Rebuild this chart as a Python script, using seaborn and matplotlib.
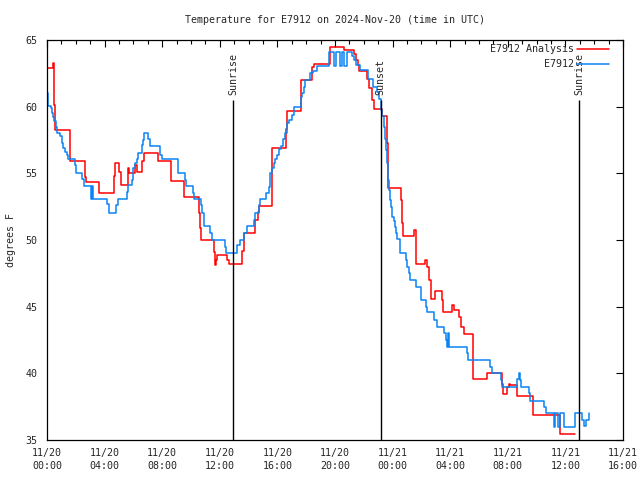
import pandas as pd
import matplotlib
matplotlib.use('Agg')
import matplotlib.pyplot as plt
import matplotlib.dates as mdates
import seaborn as sns

"""Temperature trace for station E7912, read off the gnuplot chart"""
start = pd.Timestamp('2024-11-20 00:00')

# hours after 11/20 00:00 UTC where the analysis value steps, and the value (F)
analysis_hours = [0.00, 0.45, 0.52, 0.59, 1.57, 1.63, 2.61, 2.68, 3.62, 4.63,
                  4.70, 5.01, 5.11, 5.63, 5.70, 6.12, 6.26, 6.61, 6.75, 7.69,
                  8.59, 9.53, 10.54, 10.61, 10.71, 11.58, 11.65, 11.72, 11.83, 12.52,
                  12.66, 13.53, 13.67, 14.47, 14.64, 14.71, 15.62, 16.59, 16.63, 16.70,
                  17.63, 18.37, 18.54, 19.65, 20.63, 21.32, 21.43, 21.57, 21.67, 22.23,
                  22.37, 22.54, 22.71, 23.23, 23.62, 23.65, 23.70, 24.60, 24.66, 24.73,
                  25.50, 25.60, 25.65, 26.26, 26.40, 26.50, 26.64, 26.94, 27.41, 27.48,
                  28.14, 28.24, 28.59, 28.73, 28.94, 29.57, 29.60, 30.54, 31.62, 31.69,
                  31.93, 32.05, 32.14, 32.65, 33.72, 35.64, 36.66]
analysis_temps = [62.9, 63.3, 60.1, 58.25, 57.1, 55.9, 54.7, 54.35, 53.5, 54.8,
                  55.75, 55.1, 54.1, 55.4, 55.0, 55.6, 55.1, 55.9, 56.5, 55.9,
                  54.4, 53.25, 52.0, 50.9, 50.0, 49.1, 48.1, 48.5, 48.85, 48.5,
                  48.2, 49.2, 50.5, 51.5, 52.1, 52.55, 56.9, 57.6, 58.3, 59.7,
                  62.0, 63.0, 63.2, 64.5, 64.25, 63.95, 63.5, 63.1, 62.7, 62.05,
                  61.4, 60.5, 59.8, 59.3, 57.25, 55.75, 53.9, 53.0, 51.25, 50.33,
                  50.75, 49.5, 48.2, 48.5, 48.0, 47.0, 45.6, 46.2, 45.5, 44.6,
                  45.1, 44.75, 44.25, 43.5, 42.95, 41.0, 39.6, 40.0, 39.2, 38.45,
                  39.0, 39.2, 39.1, 38.3, 36.85, 35.45, 35.45]

# observed station values
obs_hours = [0.00, 0.05, 0.09, 0.28, 0.37, 0.44, 0.51, 0.61, 0.67, 0.90,
             1.02, 1.13, 1.25, 1.37, 1.44, 1.93, 2.00, 2.41, 2.59, 3.04,
             3.13, 3.22, 4.19, 4.31, 4.80, 4.92, 5.54, 5.63, 5.89, 5.96,
             6.12, 6.24, 6.35, 6.59, 6.70, 6.77, 7.01, 7.12, 7.86, 7.98,
             9.13, 9.55, 9.65, 10.14, 10.21, 10.69, 10.76, 10.87, 10.92, 11.34,
             11.46, 12.38, 12.43, 13.20, 13.38, 13.70, 13.89, 14.35, 14.47, 14.70,
             14.77, 15.23, 15.39, 15.46, 15.51, 15.63, 15.79, 15.86, 16.00, 16.14,
             16.24, 16.38, 16.56, 16.66, 16.83, 17.04, 17.15, 17.65, 17.72, 17.83,
             17.95, 18.26, 18.50, 18.76, 19.57, 19.92, 20.06, 20.33, 20.50, 20.61,
             20.80, 21.20, 21.29, 21.43, 21.77, 22.28, 22.66, 22.94, 23.05, 23.17,
             23.28, 23.40, 23.47, 23.53, 23.63, 23.70, 23.74, 23.81, 23.86, 23.98,
             24.09, 24.16, 24.26, 24.33, 24.49, 24.90, 25.00, 25.13, 25.18, 25.60,
             25.95, 26.00, 26.30, 26.41, 26.85, 27.06, 27.55, 27.72, 27.78, 27.85,
             27.92, 29.15, 29.24, 30.77, 30.87, 31.56, 31.63, 32.65, 32.78, 32.85,
             32.90, 33.46, 33.55, 34.53, 34.64, 35.18, 35.27, 35.50, 35.65, 35.90,
             36.66, 37.15, 37.31, 37.43, 37.65]
obs_temps = [61.0, 60.6, 60.07, 59.9, 59.5, 59.2, 58.9, 58.5, 58.0, 57.8,
             57.25, 56.9, 56.6, 56.4, 56.05, 55.6, 55.0, 54.6, 54.05, 53.05,
             54.05, 53.05, 52.7, 52.05, 52.6, 53.05, 53.6, 54.1, 54.5, 55.4,
             55.75, 56.05, 56.5, 57.1, 57.5, 58.0, 57.6, 57.07, 56.4, 56.05,
             55.0, 54.5, 54.05, 53.5, 53.07, 52.6, 52.0, 51.5, 51.05, 50.5,
             50.0, 49.5, 49.05, 49.6, 50.0, 50.5, 51.05, 51.5, 52.0, 52.6,
             53.05, 53.5, 54.0, 54.5, 55.0, 55.4, 55.8, 56.05, 56.4, 56.8,
             57.05, 57.6, 58.0, 58.75, 59.0, 59.4, 60.0, 60.75, 61.0, 61.5,
             62.0, 62.5, 62.7, 63.05, 64.07, 63.05, 64.07, 63.05, 64.07, 63.05,
             64.07, 63.8, 63.5, 63.1, 62.75, 62.1, 61.5, 61.1, 60.6, 59.75,
             59.3, 58.5, 57.6, 56.75, 55.75, 54.5, 53.75, 53.0, 52.5, 51.75,
             51.4, 51.0, 50.5, 50.05, 49.0, 48.5, 48.0, 47.55, 47.0, 46.5,
             46.0, 45.5, 45.0, 44.6, 44.0, 43.5, 43.05, 42.5, 42.0, 43.0,
             42.0, 41.5, 41.0, 40.5, 40.05, 39.5, 38.95, 39.6, 40.0, 39.5,
             38.95, 38.5, 37.95, 37.5, 37.0, 36.0, 37.0, 36.0, 37.0, 36.0,
             37.0, 36.5, 36.05, 36.5, 37.0]

event_hours = [12.94, 23.17, 36.94]
event_labels = ['Sunrise', 'Sunset', 'Sunrise']

series_names = ['E7912 Analysis', 'E7912']
series_colors = ['#ff0000', '#0a84f5']

analysis = pd.DataFrame({'hours': analysis_hours, 'temp': analysis_temps, 'series': series_names[0]})
obs = pd.DataFrame({'hours': obs_hours, 'temp': obs_temps, 'series': series_names[1]})
df = pd.concat([analysis, obs], ignore_index=True)
df['time'] = start + pd.to_timedelta(df['hours'], unit='h')

sns.set_style('white')
plt.rcParams['font.family'] = ['DejaVu Sans Mono']
plt.rcParams['font.size'] = 7.2

fig = plt.figure(figsize=(6.4, 4.8), dpi=100)
ax = fig.add_axes([47 / 640, 40 / 480, 576 / 640, 400 / 480])

sns.lineplot(data=df, x='time', y='temp', hue='series', hue_order=series_names,
             palette=dict(zip(series_names, series_colors)), estimator=None,
             drawstyle='steps-post', lw=1.1, ax=ax)

"""Sunrise / sunset markers"""
event_times = [start + pd.Timedelta(hours=h) for h in event_hours]
ax.vlines(event_times, 35, 60.5, color='black', lw=1)
for t, lab in zip(event_times, event_labels):
    ax.text(t, 60.85, lab, rotation=90, ha='center', va='bottom', fontsize=7.2)

ax.set_xlim(start, start + pd.Timedelta(hours=40))
ax.set_ylim(35, 65)
ax.set_yticks(range(35, 66, 5))
ax.xaxis.set_major_locator(mdates.HourLocator(byhour=range(0, 24, 4)))
ax.xaxis.set_minor_locator(mdates.HourLocator())
ax.xaxis.set_major_formatter(mdates.DateFormatter('%m/%d\n%H:%M'))
ax.tick_params(which='both', direction='in', top=True, right=True, color='black', width=0.8)
ax.tick_params(which='major', length=5, pad=6)
ax.tick_params(which='minor', length=3)
ax.tick_params(axis='x', labelsize=7.2)
ax.tick_params(axis='y', labelsize=7.2, pad=7)
for lbl in ax.get_xticklabels():
    lbl.set_linespacing(1.35)
for s in ax.spines.values():
    s.set_visible(True)
    s.set_color('black')
    s.set_linewidth(0.9)

ax.set_xlabel('')
ax.set_ylabel('degrees F', labelpad=7)
ax.set_title('Temperature for E7912 on 2024-Nov-20 (time in UTC)', fontsize=7.2, pad=12)

handles, labels = ax.get_legend_handles_labels()
ax.legend(handles, labels, loc='upper right', bbox_to_anchor=(0.978, 0.993),
          frameon=False, markerfirst=False, handlelength=3.2, handletextpad=0.3,
          labelspacing=0.5, borderaxespad=0, borderpad=0.15, fontsize=7.2)

fig.savefig('out.png', dpi=100)
